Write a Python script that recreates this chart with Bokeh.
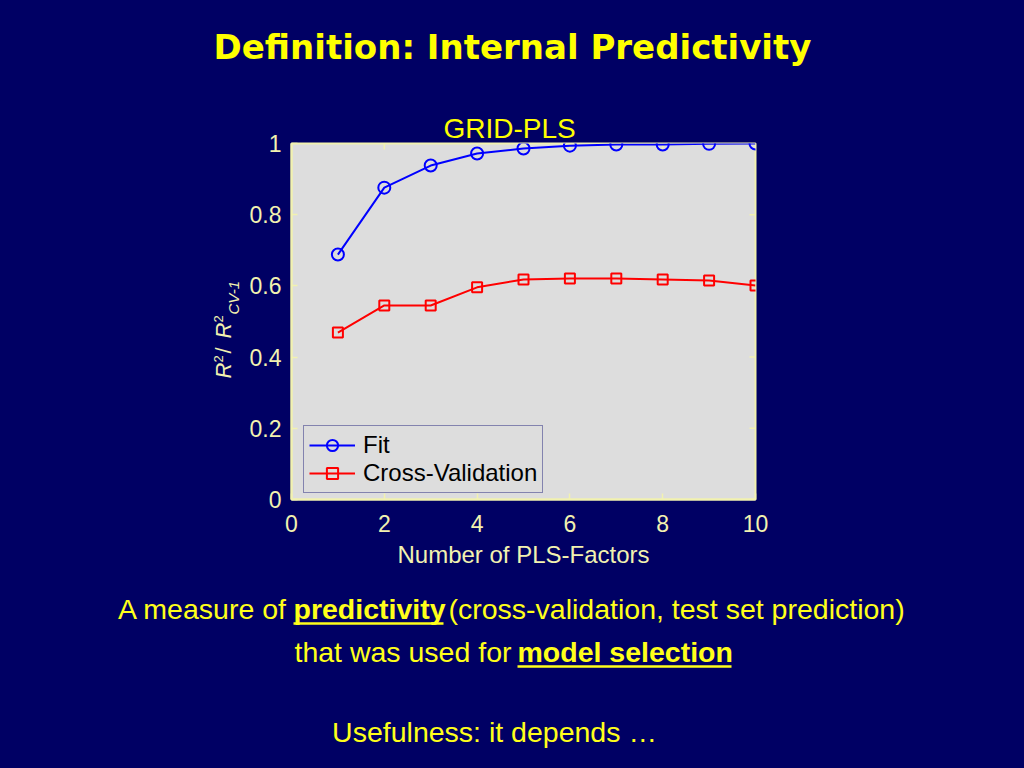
from math import pi
from bokeh.plotting import figure
from bokeh.layouts import column, row
from bokeh.models import Range1d, LinearAxis, FixedTicker, Legend, LegendItem
from bokeh.core.properties import value
from bokeh.embed import file_html
from bokeh.resources import INLINE

# ---- data ----
factors = [1, 2, 3, 4, 5, 6, 7, 8, 9, 10]
fit = [0.688, 0.876, 0.938, 0.972, 0.986, 0.994, 0.997, 0.997, 0.999, 1.0]
cross_val = [0.469, 0.545, 0.545, 0.596, 0.618, 0.621, 0.621, 0.618, 0.615, 0.601]
x_ticks = [0, 2, 4, 6, 8, 10]
y_ticks = [0, 0.2, 0.4, 0.6, 0.8, 1.0]
y_tick_labels = {0: "0", 0.2: "0.2", 0.4: "0.4", 0.6: "0.6", 0.8: "0.8", 1.0: "1"}
series_names = ["Fit", "Cross-Validation"]

BG = "#000064"
AX = "#f2f2b0"
YEL = "#ffff1a"
FONT = "Liberation Sans"


def blank(w, h, x0, x1, y0, y1):
    """Text-only panel whose data units are page pixels (y grows downward)."""
    f = figure(width=w, height=h, output_backend="svg", toolbar_location=None,
               x_range=Range1d(x0, x1), y_range=Range1d(y1, y0), min_border=0,
               x_axis_location=None, y_axis_location=None)
    f.background_fill_color = BG
    f.border_fill_color = BG
    f.outline_line_color = None
    f.grid.visible = False
    return f


def txt(f, x, y, s, size, color=YEL, font=FONT, style="normal", align="left", angle=0):
    f.text(x=[x], y=[y], text=[s], text_font=value(font), text_font_size=value(size),
           text_font_style=value(style), text_color=color, text_align=value(align),
           text_baseline=value("middle"), angle=angle)


# ---------------- top panel: slide title ----------------
top = blank(1024, 100, 0, 1024, 0, 100)
txt(top, 512, 46, "Definition: Internal Predictivity", "34px", color="#ffff00",
    font="DejaVu Sans", style="bold", align="center")

# ---------------- y label panel (R² / R²CV-1, rotated) ----------------
# its frame lines up with the chart frame (page y 143..499)
LW = 244
ylab = blank(LW, 480, 0, LW, 143, 499)
txt(ylab, 223, 378, "R", "22px", color=AX, style="italic", angle=pi / 2)
txt(ylab, 218, 362, "2", "13px", color=AX, angle=pi / 2)
txt(ylab, 223, 353, "/", "22px", color=AX, angle=pi / 2)
txt(ylab, 223, 338, "R", "22px", color=AX, style="italic", angle=pi / 2)
txt(ylab, 218, 322, "2", "13px", color=AX, angle=pi / 2)
txt(ylab, 233, 314, "CV-1", "15px", color=AX, style="italic", angle=pi / 2)

# ---------------- main chart ----------------
p = figure(width=1024 - LW, height=480, output_backend="svg", toolbar_location=None,
           x_range=Range1d(0, 10), y_range=Range1d(0, 1),
           min_border_left=291 - LW, min_border_right=269, min_border_top=43, min_border_bottom=81,
           x_axis_location=None, y_axis_location=None)
p.background_fill_color = "#dddddd"
p.border_fill_color = BG
p.outline_line_color = AX
p.outline_line_width = 2
p.grid.visible = False

p.title.text = "GRID-PLS"
p.title.align = "left"
p.title.offset = 152
p.title.standoff = 0
p.title.text_color = "#ffff00"
p.title.text_font = FONT
p.title.text_font_size = "28px"
p.title.text_font_style = "normal"


def style_axis(ax):
    ax.axis_line_color = AX
    ax.axis_line_width = 2
    ax.major_tick_line_color = AX
    ax.major_tick_line_width = 1.5
    ax.major_tick_in = 6
    ax.major_tick_out = 0
    ax.minor_tick_line_color = None
    ax.major_label_text_color = AX
    ax.major_label_text_font = FONT
    ax.major_label_text_font_size = "23px"


xb = LinearAxis(ticker=FixedTicker(ticks=x_ticks))
style_axis(xb)
xb.major_label_standoff = 15
xb.axis_label = "Number of PLS-Factors"
xb.axis_label_text_color = AX
xb.axis_label_text_font = FONT
xb.axis_label_text_font_size = "24px"
xb.axis_label_text_font_style = "normal"
xb.axis_label_standoff = 6
p.add_layout(xb, "below")

yl = LinearAxis(ticker=FixedTicker(ticks=y_ticks), major_label_overrides=y_tick_labels)
style_axis(yl)
yl.major_label_standoff = 10
p.add_layout(yl, "left")

# inner tick marks on the top and right edges of the box (from the tick lists)
px_x = 464 / 10.0   # pixels per x unit
px_y = 356 / 1.0    # pixels per y unit
tick_len = 6
p.segment(x0=x_ticks, y0=[1.0] * len(x_ticks), x1=x_ticks,
          y1=[1.0 - tick_len / px_y] * len(x_ticks), line_color=AX, line_width=1.5)
p.segment(x0=[10.0] * len(y_ticks), y0=y_ticks, x1=[10.0 - tick_len / px_x] * len(y_ticks),
          y1=y_ticks, line_color=AX, line_width=1.5)

# ---- series ----
l1 = p.line(factors, fit, line_color="#0000ff", line_width=2)
m1 = p.scatter(factors, fit, marker="circle", size=12, line_color="#0000ff",
               line_width=2, fill_color=None)
l2 = p.line(factors, cross_val, line_color="#ff0000", line_width=2)
m2 = p.scatter(factors, cross_val, marker="square", size=10, line_color="#ff0000",
               line_width=2, fill_color=None)

legend = Legend(items=[LegendItem(label=series_names[0], renderers=[l1, m1]),
                       LegendItem(label=series_names[1], renderers=[l2, m2])],
                location=(12, 6))
legend.background_fill_color = "#dddddd"
legend.background_fill_alpha = 1
legend.border_line_color = "#2a2a80"
legend.border_line_width = 1.5
legend.label_text_font = FONT
legend.label_text_font_size = "24px"
legend.label_text_color = "#000000"
legend.glyph_width = 46
legend.glyph_height = 28
legend.label_height = 28
legend.label_standoff = 8
legend.spacing = 0
legend.padding = 5
legend.margin = 0
p.add_layout(legend, "center")

# ---------------- bottom panel: text ----------------
FS = "28.5px"
bot = blank(1024, 188, 0, 1024, 580, 768)
txt(bot, 287, 608, "A measure of", FS, align="right")
txt(bot, 293, 608, "predictivity", FS, style="bold")
txt(bot, 448, 608, "(cross-validation, test set prediction)", FS)
txt(bot, 511, 651, "that was used for", FS, align="right")
txt(bot, 517, 651, "model selection", FS, style="bold")
txt(bot, 494, 731, "Usefulness: it depends \u2026", FS, align="center")
bot.segment(x0=[293, 517], y0=[623, 666], x1=[443, 731], y1=[623, 666],
            line_color=YEL, line_width=2.5)

layout = column(top, row(ylab, p), bot)

html = file_html(layout, INLINE)
html = html.replace("<body>", '<body style="background-color:%s;">' % BG)
open("out.html", "w").write(html)
